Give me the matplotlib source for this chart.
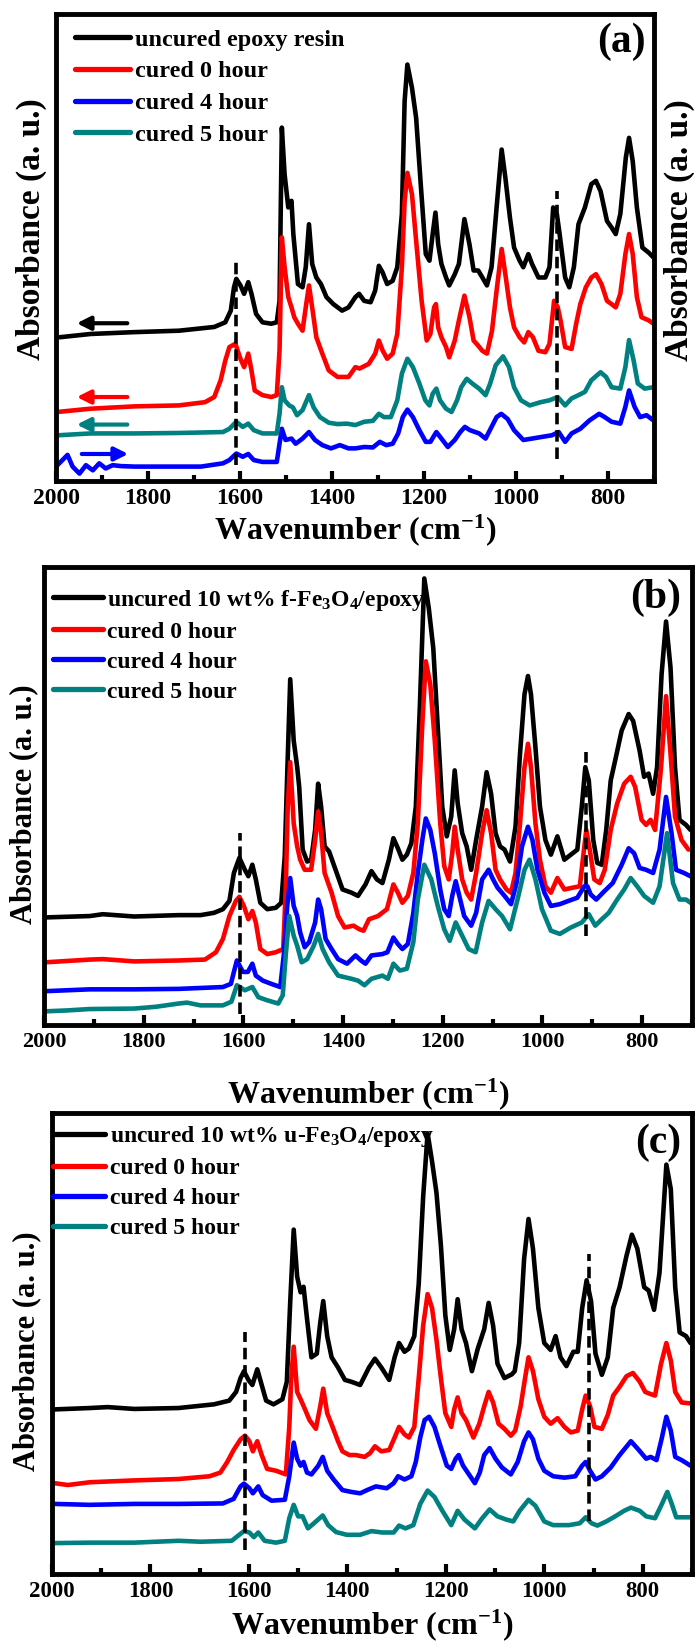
import matplotlib
matplotlib.use('Agg')
import matplotlib.pyplot as plt
from matplotlib.ticker import MultipleLocator

plt.rcParams['font.family'] = ['Liberation Serif', 'DejaVu Serif']
plt.rcParams['font.weight'] = 'bold'
plt.rcParams['mathtext.fontset'] = 'custom'
plt.rcParams['mathtext.rm'] = 'Liberation Serif:bold'
plt.rcParams['mathtext.default'] = 'regular'

colors = ['#000000', '#ff0000', '#0000ff', '#008080']

# ---- panel (a): neat epoxy ----
a_labels = ['uncured epoxy resin', 'cured 0 hour', 'cured 4 hour', 'cured 5 hour']

a_uncured_wn = [1992, 1925, 1829, 1733, 1656, 1632, 1620, 1613, 1608, 1599, 1591, 1582, 1575, 1565, 1551, 1532, 1520, 1514, 1509, 1503, 1495, 1488, 1484, 1474, 1464, 1457, 1450, 1443, 1434, 1424, 1412, 1397, 1378, 1364, 1349, 1341, 1330, 1316, 1306, 1298, 1290, 1280, 1268, 1258, 1248, 1242, 1236, 1226, 1217, 1207, 1196, 1188, 1181, 1175, 1169, 1162, 1152, 1145, 1133, 1124, 1112, 1101, 1092, 1082, 1073, 1063, 1053, 1042, 1031, 1023, 1013, 1004, 992, 984, 973, 965, 951, 936, 927, 919, 911, 905, 893, 884, 874, 864, 850, 836, 826, 816, 802, 792, 783, 773, 761, 754, 746, 737, 725, 711, 701]
a_uncured_ab = [30.8, 31.5, 31.9, 32.2, 33.0, 34.0, 36.5, 41.5, 43.3, 41.9, 40.1, 42.6, 40.1, 35.8, 34.0, 33.7, 34.0, 38.6, 75.7, 65.7, 58.6, 60.0, 52.9, 42.2, 41.5, 45.8, 55.0, 46.5, 43.6, 42.2, 39.4, 37.9, 36.5, 37.2, 39.4, 40.1, 38.6, 38.3, 40.8, 46.1, 44.7, 42.2, 42.9, 45.8, 57.2, 81.4, 89.2, 84.2, 77.8, 63.6, 48.6, 47.2, 52.9, 57.5, 50.7, 46.5, 43.6, 41.9, 44.3, 46.5, 56.1, 50.7, 45.1, 45.1, 43.6, 41.9, 45.8, 58.6, 71.0, 65.0, 56.4, 50.0, 47.2, 45.8, 48.6, 46.5, 43.6, 43.6, 45.8, 58.6, 57.2, 52.9, 43.6, 41.5, 45.8, 55.0, 58.6, 63.6, 64.3, 62.1, 55.7, 54.3, 52.9, 57.2, 69.3, 73.5, 68.5, 58.6, 50.0, 48.9, 47.9]

a_cured0_wn = [1997, 1925, 1829, 1733, 1676, 1656, 1642, 1632, 1623, 1610, 1599, 1591, 1582, 1575, 1568, 1551, 1532, 1520, 1514, 1509, 1503, 1495, 1488, 1482, 1474, 1464, 1457, 1450, 1443, 1434, 1421, 1407, 1388, 1364, 1349, 1340, 1320, 1306, 1298, 1290, 1280, 1268, 1258, 1248, 1242, 1236, 1226, 1217, 1205, 1194, 1186, 1178, 1174, 1169, 1162, 1152, 1145, 1133, 1124, 1112, 1101, 1092, 1082, 1073, 1063, 1052, 1042, 1031, 1023, 1013, 1004, 992, 982, 973, 963, 951, 936, 927, 917, 909, 903, 893, 879, 869, 860, 848, 836, 826, 814, 802, 792, 783, 773, 762, 754, 746, 737, 727, 711, 701]
a_cured0_ab = [14.8, 15.5, 16.0, 16.2, 16.9, 18.0, 21.6, 25.8, 28.7, 29.4, 26.2, 24.4, 27.3, 23.7, 19.4, 18.4, 18.0, 18.4, 28.0, 52.2, 45.8, 39.4, 37.2, 35.1, 33.7, 32.2, 37.2, 41.9, 37.2, 30.8, 27.3, 23.7, 22.3, 22.3, 24.4, 24.1, 25.1, 27.3, 30.1, 28.0, 26.2, 27.3, 31.5, 45.8, 60.0, 66.0, 61.4, 51.5, 38.6, 30.1, 31.5, 37.2, 37.9, 32.9, 30.8, 28.7, 26.5, 30.1, 34.4, 39.7, 35.1, 30.1, 29.0, 27.9, 27.3, 32.2, 40.8, 49.7, 44.3, 37.2, 32.9, 30.8, 29.7, 31.9, 30.8, 27.9, 27.6, 29.4, 38.6, 37.2, 34.4, 28.7, 28.3, 33.7, 37.9, 41.5, 43.6, 44.3, 42.2, 38.6, 37.9, 37.2, 40.1, 48.6, 52.9, 48.6, 39.4, 35.1, 34.4, 33.7]

a_cured4_wn = [1997, 1983, 1975, 1964, 1949, 1935, 1920, 1906, 1892, 1877, 1858, 1829, 1781, 1733, 1685, 1637, 1623, 1608, 1594, 1582, 1570, 1551, 1520, 1514, 1509, 1501, 1488, 1479, 1464, 1450, 1437, 1421, 1402, 1383, 1364, 1349, 1330, 1311, 1296, 1282, 1268, 1256, 1246, 1236, 1224, 1210, 1196, 1186, 1173, 1162, 1148, 1133, 1121, 1111, 1100, 1080, 1066, 1053, 1042, 1032, 1018, 1004, 984, 965, 941, 922, 907, 893, 879, 860, 840, 819, 807, 792, 773, 762, 754, 742, 730, 716, 701]
a_cured4_ab = [3.4, 4.8, 5.6, 3.1, 1.6, 3.4, 2.3, 3.8, 2.7, 3.4, 3.2, 3.1, 3.1, 3.1, 3.1, 3.8, 4.5, 5.9, 5.2, 5.8, 4.5, 4.1, 4.1, 8.0, 11.2, 8.8, 9.1, 8.0, 9.1, 10.5, 8.8, 7.7, 7.0, 7.7, 7.0, 7.0, 7.3, 7.2, 8.4, 7.7, 8.0, 10.2, 13.7, 15.3, 13.7, 10.9, 8.4, 8.4, 10.5, 9.1, 7.3, 8.8, 10.5, 11.6, 10.9, 10.2, 9.1, 11.6, 13.7, 14.4, 13.3, 10.9, 8.8, 9.1, 9.5, 9.8, 10.5, 8.4, 10.2, 11.2, 13.0, 14.4, 13.7, 12.7, 12.3, 15.9, 19.4, 15.9, 13.7, 14.1, 13.0]

a_cured5_wn = [1997, 1925, 1829, 1733, 1637, 1623, 1608, 1594, 1582, 1570, 1551, 1520, 1514, 1509, 1503, 1493, 1485, 1476, 1464, 1450, 1440, 1426, 1407, 1388, 1368, 1349, 1330, 1311, 1298, 1287, 1272, 1258, 1248, 1236, 1224, 1210, 1197, 1188, 1181, 1173, 1165, 1152, 1140, 1128, 1119, 1107, 1095, 1080, 1066, 1056, 1044, 1028, 1015, 1004, 989, 970, 946, 927, 909, 893, 879, 864, 850, 836, 816, 804, 792, 773, 762, 754, 744, 735, 720, 701]
a_cured5_ab = [9.8, 10.2, 10.2, 10.3, 10.5, 11.2, 12.7, 11.6, 12.3, 10.9, 10.2, 10.2, 14.4, 20.1, 17.3, 16.2, 15.8, 14.1, 15.2, 18.4, 15.8, 13.7, 12.5, 12.2, 12.3, 12.0, 12.7, 12.9, 14.4, 13.7, 13.7, 17.3, 23.0, 26.2, 24.4, 20.9, 17.3, 16.2, 18.7, 19.8, 17.3, 15.5, 14.8, 17.3, 20.1, 21.9, 20.9, 19.8, 18.4, 20.9, 24.8, 26.7, 24.4, 20.1, 17.3, 16.2, 16.9, 17.3, 18.0, 16.2, 17.7, 18.4, 19.1, 21.6, 23.3, 22.3, 20.1, 19.8, 24.4, 30.2, 25.8, 20.9, 19.8, 20.1]

a_dash_wn = [1608, 911]
a_dash_lo = [3.4, 4.8]
a_dash_hi = [47.9, 62.1]

# shift direction arrows in (a)
a_arrow_ab = [33.8, 18.0, 12.1, 5.8]
a_arrow_from = [1845, 1845, 1845, 1944]
a_arrow_to = [1955, 1955, 1955, 1843]

# ---- panel (b): f-Fe3O4/epoxy ----
b_labels = ['uncured 10 wt% f-Fe$_3$O$_4$/epoxy', 'cured 0 hour', 'cured 4 hour', 'cured 5 hour']

b_uncured_wn = [1997, 1908, 1882, 1819, 1730, 1686, 1659, 1641, 1628, 1619, 1608, 1597, 1590, 1582, 1575, 1566, 1552, 1535, 1524, 1517, 1512, 1506, 1499, 1492, 1488, 1481, 1472, 1464, 1456, 1450, 1444, 1437, 1428, 1415, 1401, 1383, 1370, 1355, 1343, 1332, 1321, 1308, 1299, 1290, 1281, 1272, 1263, 1254, 1246, 1237, 1228, 1219, 1210, 1201, 1192, 1183, 1176, 1170, 1161, 1152, 1143, 1133, 1121, 1112, 1103, 1094, 1085, 1076, 1065, 1054, 1045, 1036, 1029, 1023, 1014, 1005, 994, 983, 970, 956, 943, 930, 921, 914, 907, 898, 890, 881, 872, 863, 854, 841, 827, 818, 805, 796, 787, 778, 770, 761, 752, 743, 734, 725, 712, 703]
b_uncured_ab = [23.5, 23.8, 24.2, 23.7, 24.0, 24.0, 24.5, 25.3, 27.1, 33.2, 36.5, 33.9, 32.5, 35.0, 31.8, 26.7, 25.3, 25.6, 26.7, 36.8, 54.9, 75.5, 62.1, 56.3, 52.0, 38.3, 35.7, 36.1, 42.6, 52.7, 47.7, 39.0, 37.9, 33.9, 29.6, 28.9, 28.2, 30.7, 33.6, 31.8, 31.0, 36.1, 40.8, 38.6, 36.1, 37.2, 39.7, 47.7, 69.3, 97.5, 91.0, 82.3, 65.0, 47.7, 41.2, 45.5, 55.6, 48.4, 41.9, 39.0, 33.9, 40.4, 47.7, 55.2, 50.5, 41.9, 39.0, 38.3, 35.7, 43.3, 59.2, 72.2, 76.2, 72.2, 60.6, 47.7, 40.4, 37.2, 41.2, 36.1, 37.2, 38.3, 47.7, 56.3, 53.4, 40.4, 35.4, 35.0, 42.6, 53.4, 57.8, 64.3, 67.9, 66.4, 59.9, 54.2, 54.9, 50.5, 56.3, 76.5, 88.1, 78.0, 56.3, 44.8, 43.7, 42.6]

b_cured0_wn = [1997, 1908, 1882, 1819, 1730, 1677, 1655, 1641, 1628, 1615, 1608, 1599, 1590, 1582, 1575, 1566, 1552, 1535, 1520, 1515, 1511, 1506, 1499, 1492, 1486, 1477, 1464, 1456, 1450, 1444, 1437, 1423, 1410, 1397, 1379, 1367, 1359, 1348, 1330, 1312, 1299, 1290, 1281, 1270, 1259, 1250, 1241, 1234, 1225, 1216, 1205, 1197, 1188, 1181, 1176, 1170, 1161, 1152, 1143, 1133, 1121, 1112, 1103, 1094, 1085, 1072, 1063, 1054, 1045, 1036, 1029, 1023, 1014, 1005, 994, 983, 970, 956, 939, 925, 919, 912, 905, 896, 885, 875, 863, 850, 836, 823, 814, 801, 792, 783, 774, 762, 752, 743, 734, 721, 707]
b_cured0_ab = [13.7, 14.3, 14.4, 13.9, 14.1, 14.3, 15.9, 18.8, 23.8, 27.1, 28.0, 26.0, 23.1, 24.9, 22.4, 16.6, 15.5, 15.9, 16.6, 29.6, 47.7, 57.4, 44.0, 39.0, 36.1, 33.9, 33.9, 40.4, 46.6, 41.9, 33.2, 28.9, 23.8, 21.3, 21.7, 20.9, 20.6, 23.1, 23.8, 25.3, 30.7, 28.9, 26.7, 28.2, 33.2, 44.0, 65.7, 79.4, 74.4, 62.1, 44.0, 34.7, 31.8, 37.5, 43.3, 38.3, 31.8, 28.9, 27.4, 33.2, 41.9, 46.9, 41.9, 33.9, 31.8, 29.6, 28.9, 33.2, 44.0, 56.3, 61.4, 56.3, 44.0, 36.1, 30.3, 28.9, 32.1, 29.6, 30.0, 30.3, 36.1, 42.6, 38.3, 31.8, 31.0, 33.9, 42.6, 48.4, 52.7, 54.2, 52.0, 44.8, 43.7, 44.8, 42.6, 56.3, 71.8, 59.2, 45.5, 40.4, 38.3]

b_cured4_wn = [1997, 1953, 1908, 1819, 1730, 1641, 1625, 1619, 1613, 1601, 1591, 1582, 1575, 1561, 1544, 1526, 1519, 1512, 1506, 1499, 1492, 1486, 1477, 1468, 1456, 1450, 1444, 1435, 1423, 1410, 1392, 1375, 1364, 1355, 1343, 1321, 1311, 1299, 1290, 1281, 1270, 1259, 1250, 1241, 1234, 1225, 1216, 1205, 1197, 1188, 1181, 1174, 1165, 1157, 1143, 1133, 1121, 1108, 1099, 1090, 1076, 1063, 1052, 1041, 1029, 1020, 1010, 996, 983, 965, 948, 930, 916, 910, 903, 892, 876, 859, 841, 827, 816, 805, 792, 778, 765, 752, 741, 732, 716, 703]
b_cured4_ab = [7.4, 7.6, 7.8, 7.8, 7.9, 8.3, 9.0, 11.6, 14.1, 11.6, 11.6, 13.4, 10.8, 9.7, 9.0, 8.3, 15.2, 26.0, 32.1, 26.0, 23.8, 20.2, 17.0, 18.1, 22.4, 27.4, 25.3, 18.8, 16.6, 14.4, 13.4, 15.2, 14.1, 13.4, 15.2, 15.5, 15.9, 19.1, 17.7, 16.6, 17.7, 24.5, 33.2, 40.4, 45.1, 42.6, 37.5, 29.6, 25.3, 23.8, 28.2, 31.4, 27.4, 23.8, 21.7, 24.5, 31.8, 33.9, 31.8, 30.0, 28.2, 26.4, 31.0, 39.0, 43.3, 40.4, 33.9, 28.9, 26.0, 26.4, 27.1, 27.8, 30.3, 30.3, 28.5, 27.4, 29.2, 31.0, 35.0, 38.6, 37.5, 34.3, 33.9, 33.2, 38.3, 49.8, 41.9, 33.9, 33.2, 32.5]

b_cured5_wn = [1997, 1953, 1908, 1819, 1775, 1730, 1713, 1686, 1641, 1624, 1613, 1597, 1582, 1570, 1552, 1530, 1521, 1515, 1508, 1499, 1492, 1483, 1472, 1459, 1450, 1441, 1428, 1410, 1383, 1370, 1357, 1343, 1321, 1310, 1299, 1286, 1272, 1259, 1250, 1237, 1223, 1210, 1197, 1186, 1174, 1161, 1148, 1134, 1121, 1108, 1094, 1081, 1065, 1050, 1036, 1026, 1014, 1001, 983, 965, 943, 921, 907, 894, 881, 867, 850, 836, 823, 810, 796, 778, 765, 750, 738, 725, 712, 703]
b_cured5_ab = [3.0, 3.2, 3.5, 3.6, 4.0, 4.7, 4.9, 4.3, 4.3, 5.1, 8.7, 7.6, 8.3, 6.1, 5.4, 4.7, 6.5, 15.2, 23.8, 19.5, 17.3, 13.7, 14.4, 17.3, 19.9, 16.6, 13.7, 10.8, 10.1, 9.7, 8.7, 10.1, 10.8, 10.1, 13.4, 11.9, 12.3, 18.1, 27.4, 35.0, 31.8, 26.0, 20.9, 18.4, 22.4, 19.5, 16.6, 15.9, 22.4, 27.1, 25.3, 23.8, 20.9, 27.4, 33.9, 36.1, 31.8, 25.3, 20.6, 19.9, 21.3, 22.4, 24.2, 21.7, 23.1, 24.5, 27.4, 29.6, 32.1, 30.3, 28.2, 26.7, 30.3, 41.9, 31.0, 27.4, 27.4, 26.7]

b_dash_wn = [1606, 912]
b_dash_lo = [2.5, 19.5]
b_dash_hi = [41.9, 59.6]

# ---- panel (c): u-Fe3O4/epoxy ----
c_labels = ['uncured 10 wt% u-Fe$_3$O$_4$/epoxy', 'cured 0 hour', 'cured 4 hour', 'cured 5 hour']

c_uncured_wn = [1995, 1923, 1887, 1833, 1743, 1671, 1640, 1626, 1617, 1610, 1601, 1593, 1583, 1574, 1565, 1550, 1532, 1523, 1516, 1509, 1502, 1495, 1489, 1482, 1473, 1462, 1455, 1449, 1441, 1432, 1419, 1405, 1392, 1374, 1356, 1344, 1331, 1315, 1304, 1295, 1284, 1275, 1264, 1255, 1246, 1237, 1228, 1219, 1210, 1201, 1192, 1183, 1176, 1168, 1159, 1147, 1135, 1122, 1113, 1104, 1095, 1081, 1066, 1060, 1051, 1041, 1032, 1023, 1012, 1000, 987, 977, 967, 955, 941, 932, 923, 914, 905, 896, 883, 871, 860, 847, 833, 822, 811, 797, 788, 777, 766, 752, 743, 734, 725, 712, 703]
c_uncured_ab = [35.7, 36.0, 36.2, 35.8, 36.0, 36.8, 37.6, 39.5, 42.5, 44.0, 42.1, 41.0, 44.4, 41.0, 37.6, 36.8, 37.9, 41.7, 59.2, 74.7, 64.5, 61.1, 62.3, 55.4, 47.0, 47.8, 54.6, 59.2, 51.6, 47.0, 44.8, 42.1, 41.7, 41.0, 44.8, 46.7, 44.8, 42.1, 47.0, 50.1, 48.2, 48.9, 51.6, 63.0, 81.9, 95.6, 89.5, 82.7, 71.3, 56.1, 48.6, 53.1, 59.6, 53.1, 50.1, 44.0, 48.9, 53.1, 58.8, 53.9, 45.6, 42.5, 43.3, 44.0, 50.1, 68.3, 77.0, 70.6, 57.7, 50.1, 48.6, 51.6, 47.0, 45.1, 48.2, 48.2, 57.7, 63.7, 59.2, 47.8, 43.2, 47.0, 57.7, 62.2, 69.0, 73.6, 70.6, 62.2, 61.5, 57.3, 65.3, 88.8, 83.5, 62.2, 52.4, 51.6, 50.1]

c_cured0_wn = [1995, 1968, 1923, 1833, 1743, 1680, 1658, 1644, 1631, 1617, 1608, 1599, 1592, 1583, 1574, 1563, 1545, 1525, 1518, 1514, 1509, 1502, 1495, 1486, 1477, 1464, 1455, 1449, 1441, 1430, 1419, 1410, 1396, 1383, 1365, 1354, 1344, 1331, 1315, 1304, 1295, 1284, 1275, 1264, 1255, 1246, 1237, 1228, 1219, 1210, 1201, 1189, 1183, 1176, 1168, 1159, 1144, 1132, 1122, 1113, 1104, 1093, 1081, 1068, 1059, 1048, 1039, 1032, 1023, 1012, 1000, 987, 973, 959, 946, 932, 923, 916, 907, 898, 883, 871, 860, 847, 833, 820, 806, 795, 786, 775, 763, 752, 743, 734, 721, 703]
c_cured0_ab = [19.7, 19.3, 19.9, 20.3, 20.6, 21.2, 22.0, 24.3, 26.9, 29.2, 30.0, 28.8, 26.6, 28.8, 25.8, 22.8, 22.4, 21.6, 31.9, 42.5, 49.3, 39.5, 37.9, 35.7, 33.4, 31.5, 36.4, 40.2, 34.9, 31.9, 28.8, 26.6, 25.8, 25.8, 25.4, 26.2, 27.7, 26.6, 26.9, 29.6, 31.9, 30.3, 29.6, 31.9, 42.5, 53.9, 60.7, 57.7, 50.8, 42.5, 34.9, 31.9, 35.7, 38.3, 34.9, 33.4, 29.6, 32.6, 36.4, 39.5, 37.2, 32.6, 31.5, 30.0, 31.1, 36.4, 42.5, 47.0, 44.0, 37.9, 34.1, 32.6, 33.8, 31.9, 30.7, 31.1, 35.7, 38.7, 36.4, 31.9, 31.5, 34.5, 38.7, 40.6, 42.9, 43.6, 41.7, 39.5, 39.1, 38.7, 45.5, 50.1, 46.3, 39.5, 37.2, 37.0]

c_cured4_wn = [1995, 1923, 1833, 1743, 1653, 1631, 1617, 1610, 1599, 1592, 1581, 1572, 1554, 1527, 1518, 1509, 1502, 1495, 1489, 1482, 1473, 1459, 1450, 1441, 1428, 1410, 1392, 1374, 1360, 1342, 1320, 1306, 1297, 1284, 1270, 1261, 1252, 1243, 1234, 1223, 1212, 1198, 1189, 1180, 1174, 1165, 1153, 1141, 1131, 1122, 1111, 1099, 1086, 1068, 1054, 1041, 1032, 1023, 1012, 1000, 982, 959, 937, 923, 916, 907, 896, 883, 865, 847, 824, 808, 793, 784, 772, 761, 752, 743, 734, 721, 703]
c_cured4_ab = [15.2, 15.0, 15.2, 15.2, 15.3, 16.3, 19.0, 19.6, 18.6, 17.5, 19.0, 17.1, 15.9, 16.1, 21.2, 28.5, 25.0, 23.5, 24.3, 22.0, 21.6, 23.5, 25.4, 22.4, 20.5, 18.2, 17.8, 17.5, 18.2, 19.0, 18.6, 19.7, 21.2, 20.5, 21.2, 24.3, 29.6, 33.4, 34.1, 31.9, 28.1, 23.5, 22.8, 25.0, 25.8, 23.5, 21.6, 19.7, 22.0, 25.8, 27.3, 25.0, 23.1, 21.6, 24.3, 28.8, 30.7, 29.2, 25.0, 22.4, 21.2, 20.9, 21.2, 23.5, 24.3, 22.4, 20.5, 21.2, 23.1, 25.8, 28.8, 26.9, 25.0, 25.4, 24.7, 29.6, 34.1, 31.1, 25.4, 24.7, 23.5]

c_cured5_wn = [1995, 1923, 1833, 1743, 1698, 1635, 1622, 1610, 1599, 1590, 1581, 1568, 1545, 1527, 1518, 1509, 1500, 1491, 1480, 1468, 1450, 1439, 1423, 1401, 1374, 1351, 1329, 1306, 1295, 1282, 1266, 1252, 1237, 1223, 1207, 1189, 1176, 1162, 1141, 1126, 1111, 1095, 1077, 1063, 1050, 1032, 1018, 1000, 982, 950, 928, 916, 904, 892, 874, 856, 838, 824, 806, 793, 775, 761, 750, 741, 732, 716, 703]
c_cured5_ab = [6.7, 6.8, 6.8, 7.2, 7.0, 7.2, 8.3, 9.3, 9.0, 8.0, 9.0, 7.2, 6.8, 7.2, 12.1, 15.0, 12.5, 12.5, 9.9, 11.0, 12.7, 10.6, 9.1, 8.5, 8.5, 9.3, 9.0, 9.0, 10.5, 9.9, 10.6, 15.2, 18.1, 16.7, 13.7, 10.6, 13.7, 11.8, 9.9, 12.1, 14.0, 12.5, 11.8, 11.4, 13.7, 16.1, 14.8, 11.4, 10.6, 10.6, 11.0, 12.3, 11.0, 10.5, 11.4, 12.5, 13.7, 14.4, 13.7, 12.5, 12.1, 15.2, 17.8, 15.2, 12.3, 12.3, 12.3]

c_dash_wn = [1608, 910]
c_dash_lo = [5.2, 11.4]
c_dash_hi = [52.5, 69.4]


def draw_panel(ax, curves, labels, dash_wn, dash_lo, dash_hi, tag, tag_xy,
               tick_size, leg_size, leg_anchor, leg_spacing, handle_len,
               ylab_xy, ylab_size, xlab_y):
    for (wn, ab), c, lab in zip(curves, colors, labels):
        ax.plot(wn, ab, color=c, lw=3.3, label=lab, solid_capstyle='round',
                solid_joinstyle='round')
    for x, lo, hi in zip(dash_wn, dash_lo, dash_hi):
        ax.plot([x, x], [lo, hi], color='black', lw=2.6, ls=(0, (3.2, 1.6)))

    ax.set_xlim(2000, 700)
    ax.set_ylim(0, 100)
    ax.set_yticks([])
    ax.xaxis.set_major_locator(MultipleLocator(200))
    ax.xaxis.set_minor_locator(MultipleLocator(100))
    ax.tick_params(axis='x', which='major', direction='in', length=7, width=3,
                   labelsize=tick_size, pad=5)
    ax.tick_params(axis='x', which='minor', direction='in', length=4, width=3)
    for s in ax.spines.values():
        s.set_linewidth(3.5)

    ax.set_xlabel('Wavenumber (cm$^{-1}$)', fontsize=23, fontweight='bold')
    ax.xaxis.set_label_coords(0.5, xlab_y)
    ax.text(ylab_xy[0], ylab_xy[1], 'Absorbance (a. u.)', transform=ax.transAxes,
            rotation=90, ha='center', va='center', fontsize=ylab_size)
    ax.text(tag_xy[0], tag_xy[1], tag, transform=ax.transAxes, ha='center',
            va='center', fontsize=30)

    leg = ax.legend(loc='upper left', bbox_to_anchor=leg_anchor, frameon=False,
                    fontsize=leg_size, handlelength=handle_len, handletextpad=0.2,
                    labelspacing=leg_spacing, borderpad=0, borderaxespad=0)
    for h in leg.get_lines():
        h.set_linewidth(3.8)


fig = plt.figure(figsize=(6.96, 16.43), dpi=100)
ax_a = fig.add_axes([0.0805, 0.7072, 0.859, 0.2842])
ax_b = fig.add_axes([0.0632, 0.3761, 0.931, 0.2788])
ax_c = fig.add_axes([0.0747, 0.0420, 0.9195, 0.2806])

draw_panel(ax_a,
           [(a_uncured_wn, a_uncured_ab), (a_cured0_wn, a_cured0_ab),
            (a_cured4_wn, a_cured4_ab), (a_cured5_wn, a_cured5_ab)],
           a_labels, a_dash_wn, a_dash_lo, a_dash_hi, '(a)', (0.946, 0.94),
           17, 17.5, (0.032, 0.969), 0.4, 2.26, (-0.042, 0.54), 24, -0.066)
ax_a.text(1.042, 0.537, 'Absorbance (a. u.)', transform=ax_a.transAxes,
          rotation=90, ha='center', va='center', fontsize=24)
for y, x0, x1, c in zip(a_arrow_ab, a_arrow_from, a_arrow_to,
                        [colors[0], colors[1], colors[3], colors[2]]):
    ax_a.annotate('', xy=(x1, y), xytext=(x0, y),
                  arrowprops=dict(arrowstyle='-|>', color=c, lw=3,
                                  mutation_scale=20, shrinkA=0, shrinkB=0))

draw_panel(ax_b,
           [(b_uncured_wn, b_uncured_ab), (b_cured0_wn, b_cured0_ab),
            (b_cured4_wn, b_cured4_ab), (b_cured5_wn, b_cured5_ab)],
           b_labels, b_dash_wn, b_dash_lo, b_dash_hi, '(b)', (0.944, 0.932),
           16, 17, (0.014, 0.955), 0.36, 2.1, (-0.032, 0.4825), 22, -0.112)

draw_panel(ax_c,
           [(c_uncured_wn, c_uncured_ab), (c_cured0_wn, c_cured0_ab),
            (c_cured4_wn, c_cured4_ab), (c_cured5_wn, c_cured5_ab)],
           c_labels, c_dash_wn, c_dash_lo, c_dash_hi, '(c)', (0.947, 0.935),
           16.5, 17, (0.002, 0.976), 0.36, 2.2, (-0.039, 0.484), 22, -0.072)

fig.savefig('out.png', dpi=100)
